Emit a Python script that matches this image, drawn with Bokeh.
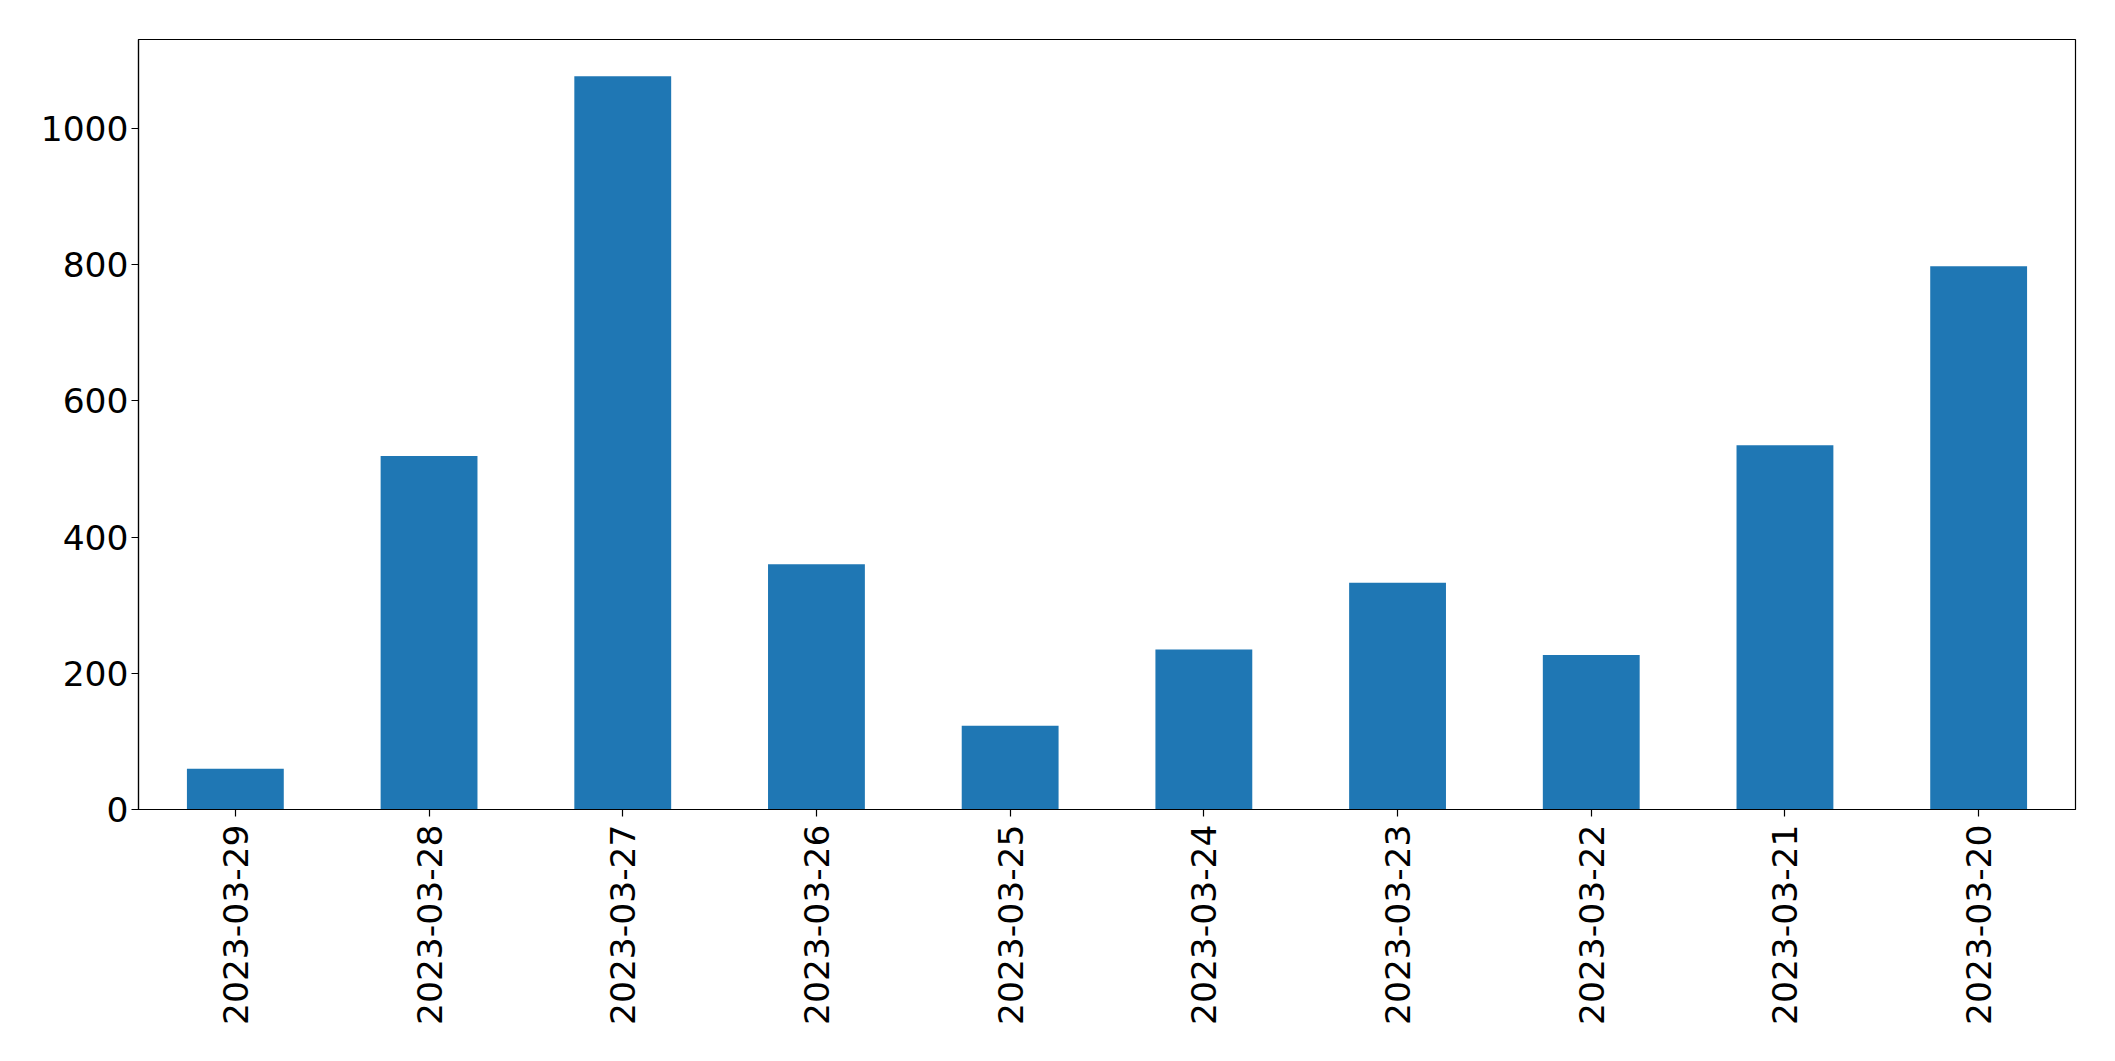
import math
from bokeh.plotting import figure
from bokeh.models import FactorRange, Range1d, FixedTicker, ColumnDataSource
from bokeh.embed import file_html
from bokeh.resources import INLINE

dates = ["2023-03-29", "2023-03-28", "2023-03-27", "2023-03-26", "2023-03-25",
         "2023-03-24", "2023-03-23", "2023-03-22", "2023-03-21", "2023-03-20"]
counts = [60, 519, 1077, 360, 123, 235, 333, 227, 535, 798]
y_ticks = [0, 200, 400, 600, 800, 1000]

src = ColumnDataSource(data=dict(date=dates, count=counts))

p = figure(
    x_range=FactorRange(factors=dates, range_padding=0),
    y_range=Range1d(0, max(counts) * 1.05),
    frame_width=1937, frame_height=770,
    output_backend="svg", toolbar_location=None,
    min_border_left=138, min_border_right=20, min_border_top=39, min_border_bottom=10,
)

p.vbar(x="date", top="count", width=0.5, source=src,
       fill_color="#1f77b4", line_color=None)

p.xgrid.visible = False
p.ygrid.visible = False
p.outline_line_color = "black"
p.outline_line_width = 1.2

font = "DejaVu Sans"
for ax in (p.xaxis[0], p.yaxis[0]):
    ax.major_label_text_font = font
    ax.major_label_text_font_size = "34.5px"
    ax.major_label_text_color = "black"
    ax.axis_line_color = "black"
    ax.axis_line_width = 1.2
    ax.major_tick_line_color = "black"
    ax.major_tick_line_width = 1.2
    ax.major_tick_out = 7
    ax.major_tick_in = 0
    ax.minor_tick_out = 0
    ax.minor_tick_in = 0

p.yaxis[0].ticker = FixedTicker(ticks=y_ticks)
p.yaxis[0].major_label_standoff = 3
p.xaxis[0].major_label_orientation = math.pi / 2
p.xaxis[0].major_label_standoff = 8

open("out.html", "w").write(file_html(p, INLINE))
